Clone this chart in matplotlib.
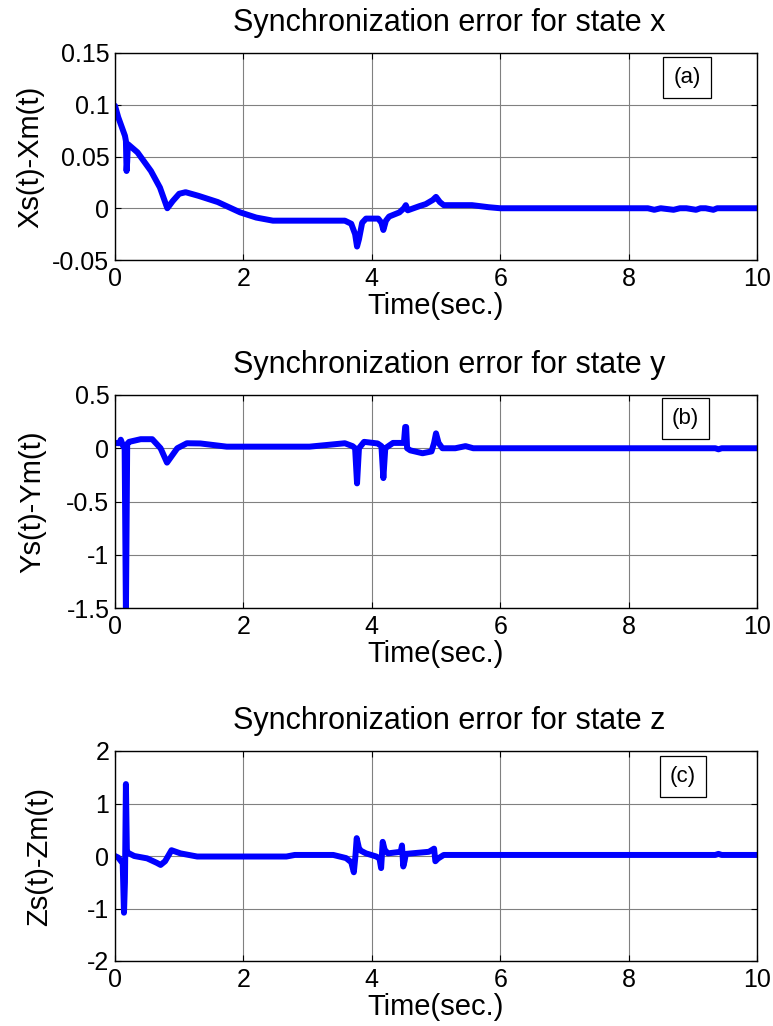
import matplotlib
matplotlib.use("Agg")
import matplotlib.pyplot as plt
import numpy as np

plt.rcParams['font.family'] = ['Liberation Sans', 'DejaVu Sans']

# ---------------- data ----------------
titles = ["Synchronization error for state x",
          "Synchronization error for state y",
          "Synchronization error for state z"]
ylabels = ["Xs(t)-Xm(t)", "Ys(t)-Ym(t)", "Zs(t)-Zm(t)"]
panel_tags = ["(a)", "(b)", "(c)"]
xlabel = "Time(sec.)"
x_ticks = [0, 2, 4, 6, 8, 10]

t_x = [0, 0.05, 0.155, 0.17, 0.18, 0.19, 0.2, 0.35, 0.56, 0.7, 0.815, 0.9, 1.0, 1.1,
       1.3, 1.6, 1.95, 2.2, 2.46, 3.0, 3.58, 3.68, 3.74, 3.77, 3.8, 3.85, 3.91, 4.1,
       4.15, 4.18, 4.22, 4.27, 4.43, 4.5, 4.53, 4.56, 4.74, 4.84, 4.95, 5.0, 5.06,
       5.12, 5.56, 5.82, 6.0, 8.3, 8.4, 8.5, 8.7, 8.8, 8.9, 9.05, 9.12, 9.2, 9.32,
       9.38, 9.45, 10]
e_x = [0.099, 0.088, 0.07, 0.065, 0.036, 0.045, 0.062, 0.054, 0.036, 0.02, 0.0, 0.007,
       0.014, 0.0155, 0.012, 0.006, -0.004, -0.009, -0.012, -0.012, -0.012, -0.015,
       -0.025, -0.037, -0.03, -0.014, -0.010, -0.010, -0.014, -0.021, -0.012, -0.008,
       -0.004, 0.0, 0.003, -0.002, 0.002, 0.004, 0.008, 0.011, 0.006, 0.003, 0.003,
       0.001, 0.0, 0.0, -0.0015, 0.0, -0.0015, 0.0, 0.0, -0.0015, 0.0, 0.0, -0.0015,
       0.0, 0.0, 0.0]

t_y = [0, 0.067, 0.09, 0.13, 0.15, 0.17, 0.19, 0.22, 0.4, 0.58, 0.71, 0.81, 0.97,
       1.12, 1.33, 1.74, 3.03, 3.58, 3.7, 3.74, 3.77, 3.8, 3.88, 4.09, 4.15, 4.18,
       4.21, 4.33, 4.5, 4.52, 4.535, 4.55, 4.6, 4.79, 4.93, 4.97, 5.0, 5.04, 5.1,
       5.3, 5.46, 5.58, 9.35, 9.4, 9.45, 10]
e_y = [0.05, 0.047, 0.08, 0.015, 0.02, -1.55, 0.04, 0.06, 0.085, 0.085, 0.0, -0.135,
       0.0, 0.047, 0.045, 0.015, 0.015, 0.047, 0.02, 0.0, -0.33, 0.0, 0.06, 0.045,
       0.02, -0.28, 0.0, 0.05, 0.05, 0.2, 0.2, 0.0, -0.02, -0.047, -0.03, 0.05, 0.14,
       0.05, 0.0, 0.0, 0.02, 0.0, 0.0, -0.01, 0.0, 0.0]

t_z = [0, 0.05, 0.12, 0.14, 0.155, 0.17, 0.185, 0.22, 0.3, 0.5, 0.65, 0.71, 0.78,
       0.88, 1.02, 1.28, 2.67, 2.8, 3.4, 3.6, 3.68, 3.72, 3.745, 3.765, 3.8, 3.83,
       3.91, 4.07, 4.12, 4.145, 4.17, 4.2, 4.25, 4.45, 4.47, 4.49, 4.51, 4.53, 4.89,
       4.97, 4.99, 5.03, 5.12, 9.35, 9.4, 9.45, 10]
e_z = [0.0, -0.03, -0.14, -1.08, -0.5, 1.37, 0.08, 0.05, 0.0, -0.045, -0.13, -0.17,
       -0.1, 0.11, 0.05, -0.01, -0.01, 0.02, 0.02, -0.04, -0.12, -0.31, 0.0, 0.34,
       0.15, 0.1, 0.05, -0.01, -0.05, -0.23, 0.27, 0.12, 0.05, 0.08, 0.2, -0.2, -0.1,
       0.04, 0.08, 0.14, -0.1, -0.05, 0.02, 0.02, 0.04, 0.02, 0.02]

y_ticks = [[-0.05, 0, 0.05, 0.1, 0.15],
           [-1.5, -1, -0.5, 0, 0.5],
           [-2, -1, 0, 1, 2]]
y_ticklabels = [["-0.05", "0", "0.05", "0.1", "0.15"],
                ["-1.5", "-1", "-0.5", "0", "0.5"],
                ["-2", "-1", "0", "1", "2"]]
series = [(t_x, e_x), (t_y, e_y), (t_z, e_z)]

# ---------------- layout ----------------
W, H = 773, 1026
fig = plt.figure(figsize=(W / 100, H / 100), dpi=100)
# (left, top, right, bottom) in pixels
boxes = [(115, 53, 757, 260), (115, 395, 757, 608), (115, 751, 757, 961)]
tag_pos = [(0.891, 0.884), (0.889, 0.892), (0.885, 0.88)]
ylab_x = [-0.11, -0.107, -0.097]

fs_tick = 18
fs_title = 22
fs_label = 21
for i, (l, t, r, b) in enumerate(boxes):
    ax = fig.add_axes([l / W, 1 - b / H, (r - l) / W, (b - t) / H])
    tt, ee = series[i]
    ax.plot(tt, ee, color=(0, 0, 1), lw=4.3, solid_joinstyle='round',
            solid_capstyle='round')
    ax.set_xlim(0, 10)
    ax.set_ylim(y_ticks[i][0], y_ticks[i][-1])
    ax.set_xticks(x_ticks)
    ax.set_xticklabels([str(v) for v in x_ticks])
    ax.set_yticks(y_ticks[i])
    ax.set_yticklabels(y_ticklabels[i])
    ax.grid(True, color='0.5', lw=0.8)
    ax.tick_params(direction='in', top=True, right=True, length=4, width=0.8,
                   labelsize=fs_tick)
    ax.tick_params(axis='x', pad=5)
    ax.tick_params(axis='y', pad=4)
    for s in ax.spines.values():
        s.set_linewidth(1.0)
        s.set_color('black')
    ax.set_title(titles[i], fontsize=fs_title, pad=16, x=0.52)
    ax.set_xlabel(xlabel, fontsize=fs_label, labelpad=1)
    ax.set_ylabel(ylabels[i], fontsize=fs_label)
    ax.yaxis.set_label_coords(ylab_x[i], 0.5)
    ax.text(tag_pos[i][0], tag_pos[i][1], panel_tags[i], transform=ax.transAxes,
            fontsize=16, ha='center', va='center',
            bbox=dict(boxstyle='square,pad=0.45', fc='white', ec='black', lw=0.9))

fig.savefig("out.png", dpi=100)
